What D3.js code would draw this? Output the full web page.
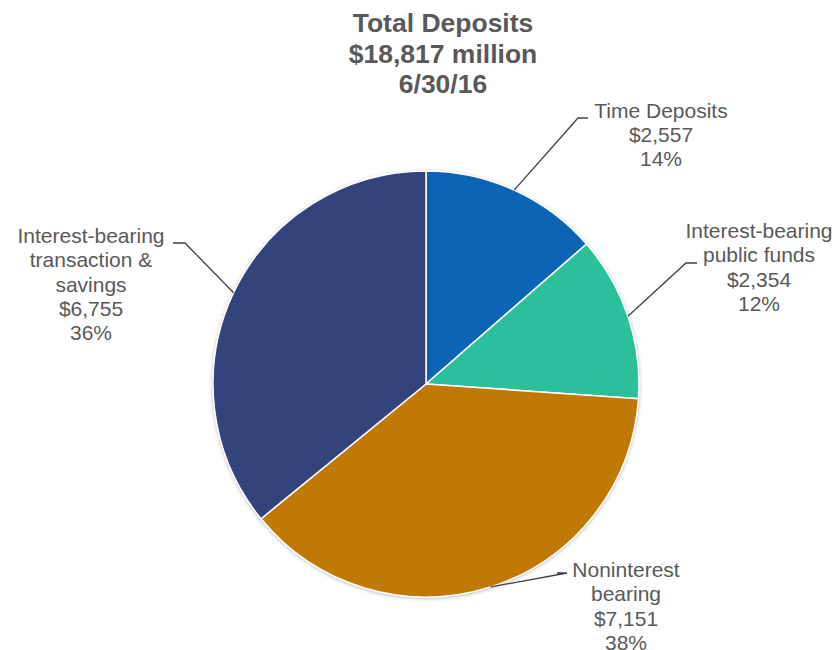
<!DOCTYPE html>
<html>
<head>
<meta charset="utf-8">
<script src="https://cdn.jsdelivr.net/npm/d3@7"></script>
<style>
  html, body { margin: 0; padding: 0; background: #fff; }
  svg { display: block; font-family: "Liberation Sans", Arial, sans-serif; }
</style>
</head>
<body>
<svg id="chart" width="837" height="650"></svg>
<script>
// Deposit mix, $ millions
const categories = ["Time Deposits", "Interest-bearing public funds", "Noninterest bearing", "Interest-bearing transaction & savings"];
const labelLines = [["Time Deposits"], ["Interest-bearing", "public funds"], ["Noninterest", "bearing"], ["Interest-bearing", "transaction &", "savings"]];
const amounts = [2557, 2354, 7151, 6755];
const percents = ["14%", "12%", "38%", "36%"];
const titleLines = ["Total Deposits", "$18,817 million", "6/30/16"];
const colors = ["#0D63B6", "#2BC09B", "#C07905", "#33447D"];

const svg = d3.select("#chart");
const cx = 426, cy = 384, radius = 213;

// Soft shadow around the pie
const defs = svg.append("defs");
const f = defs.append("filter").attr("id", "shadow").attr("x", "-10%").attr("y", "-10%").attr("width", "120%").attr("height", "120%");
f.append("feDropShadow").attr("dx", 0).attr("dy", 1).attr("stdDeviation", 2.2)
  .attr("flood-color", "#000").attr("flood-opacity", 0.35);

// Title
svg.append("g").selectAll("text").data(titleLines).join("text")
  .attr("x", 443).attr("y", (d, i) => 32 + i * 30.7)
  .attr("text-anchor", "middle").attr("font-weight", "bold")
  .attr("font-size", 26.5).attr("fill", "#595959").text(d => d);

const pie = d3.pie().sort(null).value(d => d);
const arcs = pie(amounts);
const arc = d3.arc().innerRadius(0).outerRadius(radius);

const g = svg.append("g").attr("transform", `translate(${cx},${cy})`);
g.append("circle").attr("r", radius).attr("fill", "#fff").attr("filter", "url(#shadow)");
g.selectAll("path.slice").data(arcs).join("path")
  .attr("class", "slice")
  .attr("d", arc)
  .attr("fill", (d, i) => colors[i])
  .attr("stroke", "#fff").attr("stroke-width", 1.5);

// Label placement: elbow of the leader line and the text column centre
const layout = [
  { elbow: [578, 118], end: [588, 118], tx: 661, ty: 117.5 },
  { elbow: [686, 263], end: [697, 263], tx: 759, ty: 238 },
  { elbow: [567, 573], end: [557, 573], tx: 626, ty: 577 },
  { elbow: [185, 243], end: [173, 243], tx: 91, ty: 243 }
];
const fmt = d3.format(",");

arcs.forEach((a, i) => {
  const mid = (a.startAngle + a.endAngle) / 2;
  const px = cx + radius * Math.sin(mid);
  const py = cy - radius * Math.cos(mid);
  const L = layout[i];
  svg.append("polyline")
    .attr("points", [[px, py], L.elbow, [L.end[0], L.end[1]]].map(p => p.join(",")).join(" "))
    .attr("fill", "none").attr("stroke", "#404040").attr("stroke-width", 1.3);

  const lines = labelLines[i].concat(["$" + fmt(amounts[i]), percents[i]]);
  svg.append("g").selectAll("text").data(lines).join("text")
    .attr("x", L.tx).attr("y", (d, j) => L.ty + j * 24.3)
    .attr("text-anchor", "middle").attr("font-size", 21)
    .attr("fill", "#595959").text(d => d);
});
</script>
</body>
</html>
